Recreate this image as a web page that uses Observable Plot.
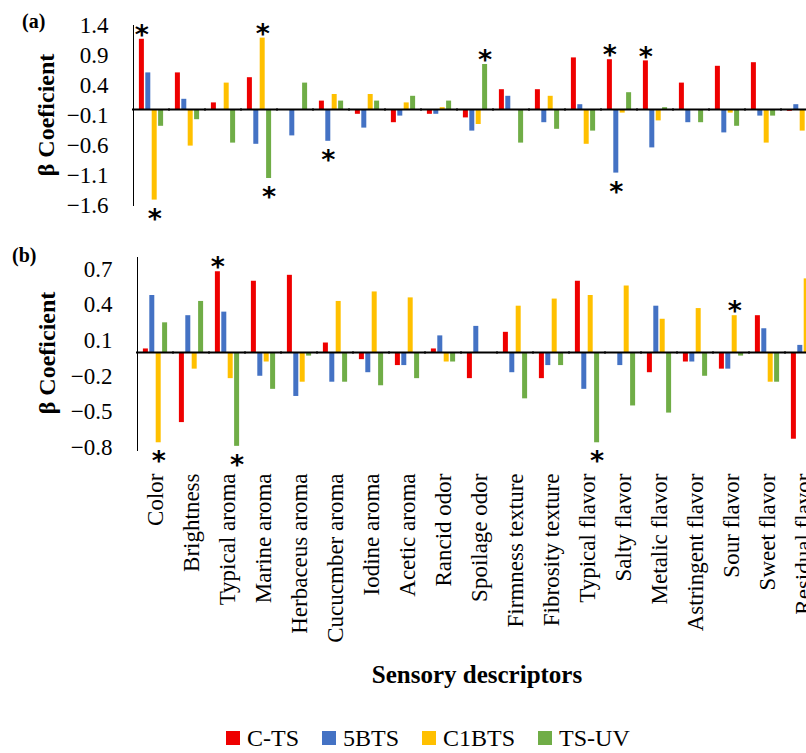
<!DOCTYPE html>
<html>
<head>
<meta charset="utf-8">
<script src="https://cdn.jsdelivr.net/npm/d3@7"></script>
<script src="https://cdn.jsdelivr.net/npm/@observablehq/plot@0.6"></script>
<style>
  html, body { margin: 0; padding: 0; overflow: hidden; background: #fff; }
  #wrap { position: relative; width: 806px; height: 753px; font-family: "Liberation Serif", serif; color: #000; }
  .abs { position: absolute; white-space: nowrap; }
  .panel-tag { font-size: 20px; font-weight: bold; line-height: 20px; }
  .ylab { font-size: 24px; font-weight: bold; line-height: 26px; width: 220px; text-align: center; transform: translate(-50%, -50%) rotate(-90deg); }
  .xlab { font-size: 25px; font-weight: bold; line-height: 25px; transform: translateX(-50%); }
  #legend { display: flex; align-items: center; font-size: 24px; line-height: 24px; }
  #legend .item { display: flex; align-items: center; margin-right: 23px; }
  #legend .sw { width: 14px; height: 14px; margin-right: 7px; }
  svg text { fill: #000; }
</style>
</head>
<body>
<div id="wrap">
  <div id="pa" class="abs" style="left:0;top:0"></div>
  <div id="pb" class="abs" style="left:0;top:230px"></div>
  <div class="abs panel-tag" style="left:22px;top:11px">(a)</div>
  <div class="abs panel-tag" style="left:12px;top:245px">(b)</div>
  <div class="abs ylab" style="left:46px;top:115px">β Coeficient</div>
  <div class="abs ylab" style="left:47px;top:353px">β Coeficient</div>
  <div class="abs xlab" style="left:477px;top:662px">Sensory descriptors</div>
  <div id="legend" class="abs" style="left:226px;top:726px"></div>
</div>
<script>
const categories = ["Color","Brightness","Typical aroma","Marine aroma","Herbaceus aroma","Cucucmber aroma","Iodine aroma","Acetic aroma","Rancid odor","Spoilage odor","Firmness texture","Fibrosity texture","Typical flavor","Salty flavor","Metalic flavor","Astringent flavor","Sour flavor","Sweet flavor","Residual flavor"];
const seriesNames = ["C-TS","5BTS","C1BTS","TS-UV"];
const seriesColors = ["#EE0000","#4472C4","#FFC000","#70AD47"];

// Panel (a)
const aCTS   = [1.17, 0.61, 0.11, 0.53, 0, 0.14, -0.08, -0.22, -0.08, -0.14, 0.33, 0.33, 0.86, 0.83, 0.81, 0.44, 0.72, 0.78, -0.03];
const a5BTS  = [0.61, 0.17, 0, -0.58, -0.44, -0.53, -0.31, -0.11, -0.08, -0.36, 0.22, -0.22, 0.08, -1.06, -0.64, -0.22, -0.39, -0.11, 0.08];
const aC1BTS = [-1.51, -0.61, 0.44, 1.19, 0, 0.25, 0.25, 0.11, 0.03, -0.25, 0, 0.22, -0.58, -0.06, -0.19, 0, -0.06, -0.56, -0.36];
const aTSUV  = [-0.28, -0.17, -0.56, -1.15, 0.44, 0.14, 0.14, 0.22, 0.14, 0.75, -0.56, -0.33, -0.36, 0.28, 0.03, -0.22, -0.28, -0.11, 0.31];
const aTicks = [1.4, 0.9, 0.4, -0.1, -0.6, -1.1, -1.6];
const aStars = [["Color","C-TS"],["Color","C1BTS"],["Marine aroma","C1BTS"],["Marine aroma","TS-UV"],["Cucucmber aroma","5BTS"],["Spoilage odor","TS-UV"],["Salty flavor","C-TS"],["Salty flavor","5BTS"],["Metalic flavor","C-TS"]];

// Panel (b)
const bCTS   = [0.03, -0.59, 0.68, 0.60, 0.65, 0.08, -0.06, -0.11, 0.03, -0.22, 0.17, -0.22, 0.60, 0, -0.17, -0.08, -0.14, 0.31, -0.73];
const b5BTS  = [0.48, 0.31, 0.34, -0.20, -0.37, -0.25, -0.17, -0.11, 0.14, 0.22, -0.17, -0.11, -0.31, -0.11, 0.39, -0.08, -0.14, 0.20, 0.06];
const bC1BTS = [-0.76, -0.14, -0.22, -0.08, -0.25, 0.43, 0.51, 0.46, -0.08, 0, 0.39, 0.45, 0.48, 0.56, 0.28, 0.37, 0.31, -0.25, 0.62];
const bTSUV  = [0.25, 0.43, -0.79, -0.31, -0.03, -0.25, -0.28, -0.22, -0.08, 0, -0.39, -0.11, -0.76, -0.45, -0.51, -0.20, -0.03, -0.25, 0.06];
const bTicks = [0.7, 0.4, 0.1, -0.2, -0.5, -0.8];
const bStars = [["Color","C1BTS"],["Typical aroma","C-TS"],["Typical aroma","TS-UV"],["Typical flavor","TS-UV"],["Sour flavor","C1BTS"]];

function rows(vals) {
  return categories.flatMap((c, i) => seriesNames.map((s, k) => ({cat: c, series: s, value: vals[k][i]})));
}
function starRows(data, stars) {
  return stars.map(([c, s]) => data.find(d => d.cat === c && d.series === s));
}
const fmt = d => d.toFixed(1).replace("-", "\u2212");

function panel(data, stars, {domain, ticks, marginLeft, marginTop, plotBottom, height, showX}) {
  const st = starRows(data, stars);
  return Plot.plot({
    width: 806,
    height,
    marginLeft,
    marginRight: 806 - marginLeft - 19 * 36,
    marginTop,
    marginBottom: height - plotBottom,
    style: {fontFamily: "Liberation Serif, serif", fontSize: "23px", color: "#000", background: "transparent", overflow: "visible"},
    fx: showX
      ? {domain: categories, padding: 0, round: false, label: null, tickRotate: -90, tickSize: 0, tickPadding: 23}
      : {domain: categories, padding: 0, round: false, axis: null},
    x: {domain: seriesNames, axis: null, paddingInner: 0.22, paddingOuter: 0.92, round: false},
    y: {domain, ticks, tickFormat: fmt, tickSize: 0, tickPadding: 25, label: null, line: true},
    color: {domain: seriesNames, range: seriesColors},
    marks: [
      Plot.barY(data, {fx: "cat", x: "series", y: "value", fill: "series"}),
      Plot.ruleY([0], {stroke: "#000", strokeWidth: 2, insetLeft: -1, insetRight: -1}),
      Plot.text(st.filter(d => d.value > 0), {fx: "cat", x: "series", y: "value", text: () => "*", fontFamily: "DejaVu Sans", fontSize: 27, fontWeight: "bold", lineAnchor: "middle", dy: -4}),
      Plot.text(st.filter(d => d.value < 0), {fx: "cat", x: "series", y: "value", text: () => "*", fontFamily: "DejaVu Sans", fontSize: 27, fontWeight: "bold", lineAnchor: "middle", dy: 19})
    ]
  });
}

const dataA = rows([aCTS, a5BTS, aC1BTS, aTSUV]);
const dataB = rows([bCTS, b5BTS, bC1BTS, bTSUV]);

document.getElementById("pa").append(panel(dataA, aStars, {domain: [-1.6, 1.4], ticks: aTicks, marginLeft: 133, marginTop: 25, plotBottom: 205, height: 225, showX: false}));
document.getElementById("pb").append(panel(dataB, bStars, {domain: [-0.825, 0.8], ticks: bTicks, marginLeft: 137, marginTop: 27, plotBottom: 220, height: 430, showX: true}));

document.querySelectorAll("svg [aria-label='y-axis line'], svg [aria-label='y-axis line'] *").forEach(e => e.setAttribute("stroke-width", 2));

const legend = document.getElementById("legend");
seriesNames.forEach((s, i) => {
  const item = document.createElement("div");
  item.className = "item";
  const sw = document.createElement("div");
  sw.className = "sw";
  sw.style.background = seriesColors[i];
  const t = document.createElement("span");
  t.textContent = s;
  item.append(sw, t);
  legend.append(item);
});
</script>
</body>
</html>
